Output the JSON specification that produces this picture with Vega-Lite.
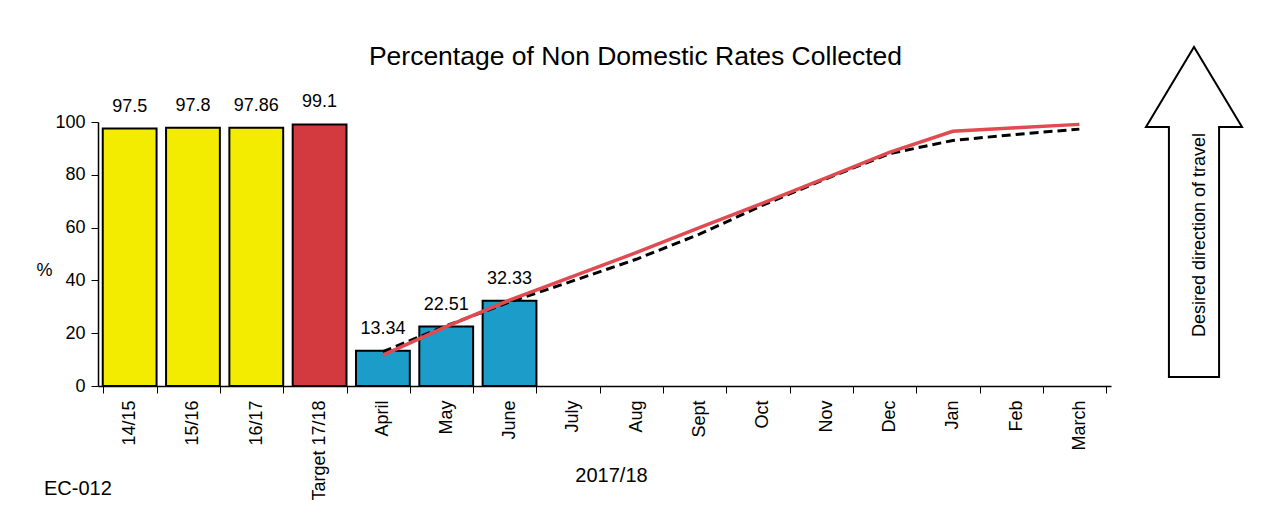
{
  "$schema": "https://vega.github.io/schema/vega-lite/v6.json",
  "padding": {"left": 35, "top": 43, "right": 5, "bottom": 2},
  "config": {"font": "Liberation Sans", "view": {"stroke": null}},
  "title": {"text": "Percentage of Non Domestic Rates Collected", "fontSize": 26.5, "fontWeight": "normal", "color": "black", "anchor": "middle", "offset": -27, "dx": -11},
  "spacing": 20,
  "hconcat": [
    {
      "width": 1013,
      "height": 264,
      "title": {"text": "EC-012", "orient": "bottom", "anchor": "start", "fontSize": 20, "fontWeight": "normal", "color": "black", "dy": -25, "dx": 8},
      "layer": [
        {
          "data": {"values": [
            {"cat": "14/15", "value": 97.5, "type": "Previous years"},
            {"cat": "15/16", "value": 97.8, "type": "Previous years"},
            {"cat": "16/17", "value": 97.86, "type": "Previous years"},
            {"cat": "Target 17/18", "value": 99.1, "type": "Target"},
            {"cat": "April", "value": 13.34, "type": "Actual"},
            {"cat": "May", "value": 22.51, "type": "Actual"},
            {"cat": "June", "value": 32.33, "type": "Actual"}
          ]},
          "layer": [
            {
              "mark": {"type": "bar", "stroke": "black", "strokeWidth": 2},
              "encoding": {
                "x": {"field": "cat", "type": "nominal", "sort": null,
                  "scale": {"domain": ["14/15","15/16","16/17","Target 17/18","April","May","June","July","Aug","Sept","Oct","Nov","Dec","Jan","Feb","March"], "paddingInner": 0.15, "paddingOuter": 0.075},
                  "axis": {"title": "2017/18", "titleFontSize": 20, "titleFontWeight": "normal", "titleColor": "black", "titleY": 89, "titleX": 513, "titleAlign": "center", "titleBaseline": "middle",
                    "labelAngle": -90, "labelFontSize": 18, "labelColor": "black", "labelPadding": 7, "tickBand": "extent", "tickColor": "black", "tickSize": 7, "domainColor": "black", "domainWidth": 1.5}},
                "y": {"field": "value", "type": "quantitative", "scale": {"domain": [0, 100]},
                  "axis": {"title": "%", "titleAngle": 0, "titleX": -54, "titleY": 148, "titleAlign": "center", "titleBaseline": "middle", "titleFontSize": 18, "titleFontWeight": "normal", "titleColor": "black",
                    "values": [0, 20, 40, 60, 80, 100], "grid": false, "labelFontSize": 18, "labelColor": "black", "labelPadding": 6, "tickColor": "black", "tickSize": 7, "domainColor": "black", "domainWidth": 1.5}},
                "color": {"field": "type", "type": "nominal", "scale": {"domain": ["Previous years", "Target", "Actual"], "range": ["#f3ec00", "#d23a40", "#1b9cc9"]}, "legend": null}
              }
            },
            {
              "mark": {"type": "text", "dy": -22, "fontSize": 18, "color": "black"},
              "encoding": {
                "x": {"field": "cat", "type": "nominal", "sort": null},
                "y": {"field": "value", "type": "quantitative"},
                "text": {"field": "value", "type": "nominal"}
              }
            }
          ]
        },
        {
          "data": {"values": [
            {"cat": "April", "target": 11.7, "profile": 13.0},
            {"cat": "May", "target": 22.5, "profile": 22.8},
            {"cat": "June", "target": 32.5, "profile": 31.8},
            {"cat": "July", "target": 41.5, "profile": 39.8},
            {"cat": "Aug", "target": 50.5, "profile": 48.0},
            {"cat": "Sept", "target": 60.0, "profile": 57.5},
            {"cat": "Oct", "target": 69.3, "profile": 68.5},
            {"cat": "Nov", "target": 78.8, "profile": 78.5},
            {"cat": "Dec", "target": 88.5, "profile": 88.0},
            {"cat": "Jan", "target": 96.5, "profile": 93.0},
            {"cat": "Feb", "target": 97.8, "profile": 95.3},
            {"cat": "March", "target": 99.1, "profile": 97.3}
          ]},
          "layer": [
            {
              "mark": {"type": "line", "color": "black", "strokeWidth": 3, "strokeDash": [9, 5]},
              "encoding": {
                "x": {"field": "cat", "type": "nominal", "sort": null},
                "y": {"field": "profile", "type": "quantitative"}
              }
            },
            {
              "mark": {"type": "line", "color": "#e04a50", "strokeWidth": 3.5},
              "encoding": {
                "x": {"field": "cat", "type": "nominal", "sort": null},
                "y": {"field": "target", "type": "quantitative"}
              }
            }
          ]
        }
      ]
    },
    {
      "width": 126,
      "height": 264,
      "data": {"values": [{"label": "Desired direction of travel"}]},
      "layer": [
        {
          "mark": {"type": "point", "shape": "M -0.152 0.745 L 0.152 0.745 L 0.152 -0.770 L 0.291 -0.770 L 0 -1.2545 L -0.291 -0.770 L -0.152 -0.770 Z", "size": 108900, "filled": true, "fill": "white", "stroke": "black", "strokeWidth": 2, "opacity": 1},
          "encoding": {}
        },
        {
          "mark": {"type": "text", "angle": 270, "fontSize": 18, "color": "black", "align": "center", "baseline": "middle", "dx": 19, "dy": 6},
          "encoding": {"text": {"field": "label", "type": "nominal"}}
        }
      ]
    }
  ]
}
